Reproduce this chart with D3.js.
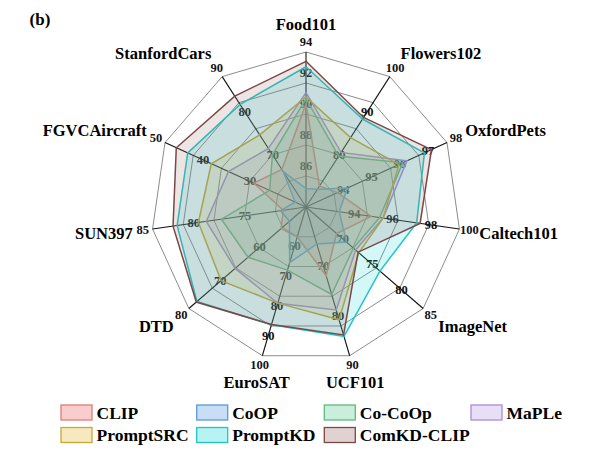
<!DOCTYPE html>
<html><head><meta charset="utf-8">
<script src="https://cdn.jsdelivr.net/npm/d3@7"></script>
<style>body{margin:0;background:#fff} svg{display:block}</style>
</head><body>
<svg id="chart" width="590" height="456"></svg>
<script>
// ---- data ----
const axes = ["Food101","Flowers102","OxfordPets","Caltech101","ImageNet","UCF101","EuroSAT","DTD","SUN397","FGVCAircraft","StanfordCars"];
const axisMin = [84, 70, 93, 92, 65, 60, 50, 50, 70, 20, 60];
const axisMax = [94, 100, 98, 100, 85, 90, 100, 80, 85, 50, 90];
const axisTicks = [
  [86,88,90,92,94],[80,90,100],[94,95,96,97,98],[94,96,98,100],[70,75,80,85],
  [70,80,90],[60,70,80,90,100],[60,70,80],[75,80,85],[30,40,50],[70,80,90]
];
const methods = ["CLIP","CoOP","Co-CoOp","MaPLe","PromptSRC","PromptKD","ComKD-CLIP"];
const clipVals      = [90.66, 74.83, 94.12, 95.40, 70.22, 73.85, 60.03, 56.37, 72.23, 31.09, 68.65];
const coopVals      = [85.19, 74.06, 94.47, 93.73, 71.92, 67.46, 68.69, 54.24, 72.51, 22.30, 68.13];
const cocoopVals    = [90.99, 81.71, 96.43, 95.84, 73.10, 77.64, 71.21, 64.85, 78.27, 27.74, 72.01];
const mapleVals     = [91.38, 82.56, 96.58, 96.02, 73.47, 80.77, 82.35, 68.16, 79.75, 36.50, 73.47];
const promptsrcVals = [91.10, 85.95, 96.30, 96.02, 74.01, 82.74, 82.32, 71.75, 80.52, 40.15, 76.58];
const promptkdVals  = [93.05, 90.24, 97.20, 97.77, 77.62, 86.10, 89.62, 77.94, 82.60, 45.17, 83.60];
const comkdVals     = [93.40, 90.60, 97.45, 97.95, 73.90, 85.80, 89.50, 78.10, 83.00, 47.60, 85.50];
const seriesVals = [clipVals, coopVals, cocoopVals, mapleVals, promptsrcVals, promptkdVals, comkdVals];

// ---- style ----
const strokeColors = ["#e07b72","#5a9ad6","#5cb97f","#a98bd9","#c8a832","#22c5c5","#7a4848"];
const fillColors   = ["#ee5a5a","#4a90e2","#4cc98a","#b294e6","#e0b62c","#12d8d8","#9a6a6a"];

const svg = d3.select("#chart");
const cx = 306, cy = 207, R = 155, nRings = 5;
const n = axes.length;
const angle = d3.scaleLinear().domain([0, n]).range([0, 2 * Math.PI]);
const rScales = axes.map((a, i) => d3.scaleLinear().domain([axisMin[i], axisMax[i]]).range([0, R]));
const pt = (i, r) => [cx + r * Math.sin(angle(i)), cy - r * Math.cos(angle(i))];

const g = svg.append("g");
const serif = "'Liberation Serif','Times New Roman',serif";

// grid rings
const ringR = d3.range(1, nRings + 1).map(k => k * R / nRings);
g.selectAll("path.ring").data(ringR).join("path")
  .attr("d", r => d3.line()(d3.range(n).map(i => pt(i, r))) + "Z")
  .attr("fill", "none").attr("stroke", "#8c8c8c").attr("stroke-width", 1);

// axis lines
g.selectAll("line.axis").data(axes).join("line")
  .attr("x1", cx).attr("y1", cy)
  .attr("x2", (d, i) => pt(i, R)[0]).attr("y2", (d, i) => pt(i, R)[1])
  .attr("stroke", "#111").attr("stroke-width", 1.1);

// tick labels
axes.forEach((a, i) => {
  const s = rScales[i];
  g.selectAll(null).data(axisTicks[i]).join("text")
    .attr("x", v => pt(i, s(v) + 10)[0])
    .attr("y", v => pt(i, s(v) + 10)[1])
    .attr("text-anchor", "middle").attr("dominant-baseline", "central")
    .attr("font-family", serif).attr("font-weight", "bold").attr("font-size", 12.5)
    .attr("fill", "#111").text(v => v);
});

// axis labels
axes.forEach((a, i) => {
  const s = Math.sin(angle(i)), c = Math.cos(angle(i));
  const x = cx + 175 * s, y = cy - 183 * c;
  const anchor = Math.abs(s) < 0.35 ? "middle" : (s > 0 ? "start" : "end");
  g.append("text").attr("x", x).attr("y", y)
    .attr("text-anchor", anchor).attr("dominant-baseline", "central")
    .attr("font-family", serif).attr("font-weight", "bold").attr("font-size", 16.5)
    .attr("fill", "#000").text(a);
});

// series polygons
const radial = d3.lineRadial().curve(d3.curveLinearClosed);
seriesVals.forEach((vals, k) => {
  const pts = vals.map((v, i) => [angle(i), rScales[i](v)]);
  g.append("path")
    .attr("transform", `translate(${cx},${cy})`)
    .attr("d", radial(pts))
    .attr("fill", fillColors[k]).attr("fill-opacity", 0.18)
    .attr("stroke", strokeColors[k]).attr("stroke-width", 1.5);
});

// title
svg.append("text").attr("x", 40).attr("y", 19)
  .attr("text-anchor", "middle").attr("dominant-baseline", "central")
  .attr("font-family", serif).attr("font-weight", "bold").attr("font-size", 17)
  .text("(b)");

// legend
const colX = [61, 196.7, 324.3, 471];
const rowY = [412.5, 435];
const lg = svg.append("g");
methods.forEach((m, k) => {
  const col = k < 4 ? k : k - 4, row = k < 4 ? 0 : 1;
  lg.append("rect").attr("x", colX[col]).attr("y", rowY[row] - 7.5)
    .attr("width", 31).attr("height", 15)
    .attr("fill", fillColors[k]).attr("fill-opacity", 0.3)
    .attr("stroke", strokeColors[k]).attr("stroke-width", 1.3);
  lg.append("text").attr("x", colX[col] + 35.5).attr("y", rowY[row])
    .attr("dominant-baseline", "central")
    .attr("font-family", serif).attr("font-weight", "bold").attr("font-size", 17.5)
    .text(m);
});
</script>
</body></html>
